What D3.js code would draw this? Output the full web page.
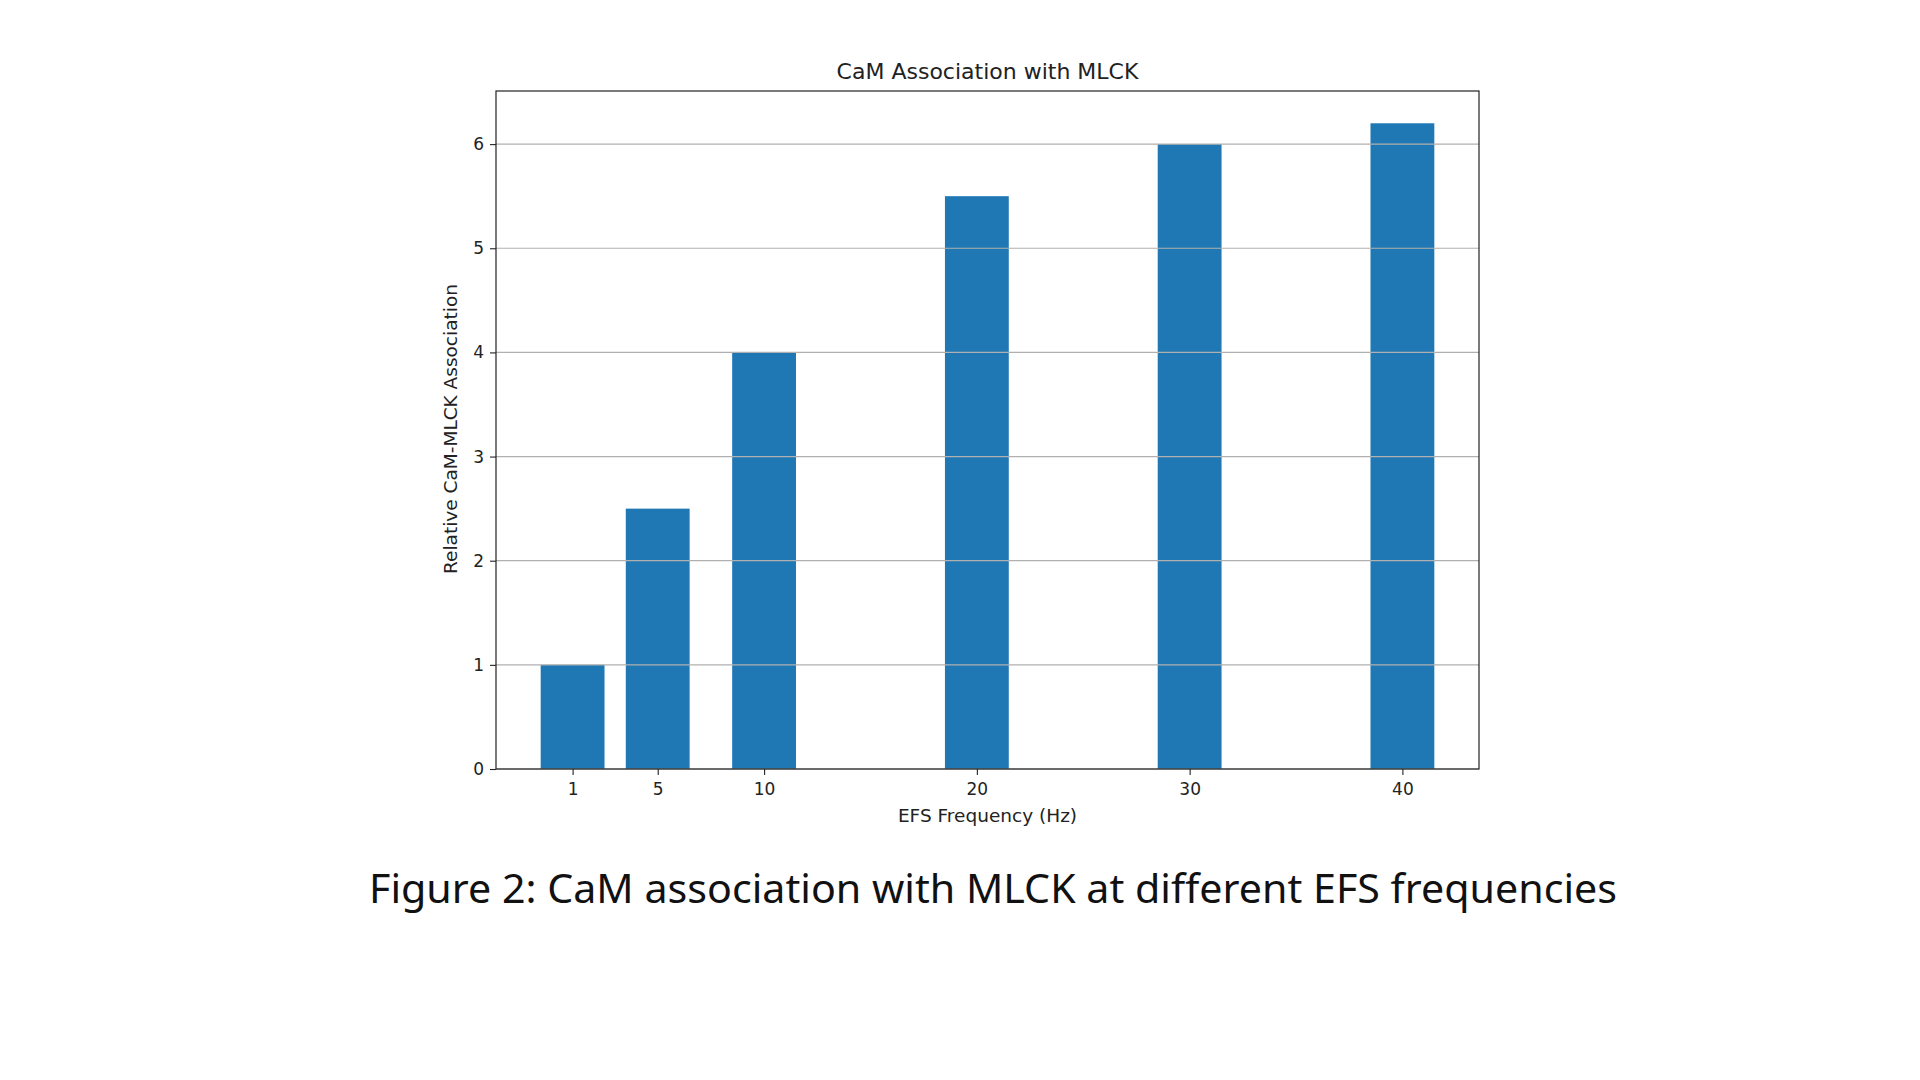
<!DOCTYPE html>
<html>
<head>
<meta charset="utf-8">
<script src="https://cdn.jsdelivr.net/npm/d3@7"></script>
<style>
  body { margin: 0; background: #fff; }
  svg { display: block; }
</style>
</head>
<body>
<div id="chart"></div>
<script>
// frequencies (Hz) and relative association
const freqs = [1, 5, 10, 20, 30, 40];
const assoc = [1.0, 2.5, 4.0, 5.5, 6.0, 6.2];
const yTicks = [0, 1, 2, 3, 4, 5, 6];
const barWidth = 3;

const W = 1920, H = 1080;
const box = { left: 496, right: 1479, top: 91, bottom: 769 };

const svg = d3.select("#chart").append("svg").attr("width", W).attr("height", H);

// matplotlib-style 5% margins around the bar extents
const xMin = d3.min(freqs) - barWidth / 2, xMax = d3.max(freqs) + barWidth / 2;
const xPad = (xMax - xMin) * 0.05;
const x = d3.scaleLinear().domain([xMin - xPad, xMax + xPad]).range([box.left, box.right]);
const y = d3.scaleLinear().domain([0, d3.max(assoc) * 1.05]).range([box.bottom, box.top]);

const font = "DejaVu Sans, sans-serif";

// bars
svg.append("g").selectAll("rect")
  .data(freqs)
  .join("rect")
  .attr("x", (d) => x(d - barWidth / 2))
  .attr("width", (d) => x(d + barWidth / 2) - x(d - barWidth / 2))
  .attr("y", (d, i) => y(assoc[i]))
  .attr("height", (d, i) => y(0) - y(assoc[i]))
  .attr("fill", "#1f77b4");

// horizontal grid (drawn over the bars, as in the figure)
svg.append("g").selectAll("line")
  .data(yTicks)
  .join("line")
  .attr("x1", box.left).attr("x2", box.right)
  .attr("y1", (d) => y(d)).attr("y2", (d) => y(d))
  .attr("stroke", "#b0b0b0").attr("stroke-width", 1.2);

// axes
const gx = svg.append("g").attr("transform", `translate(0,${box.bottom})`)
  .call(d3.axisBottom(x).tickValues(freqs).tickSize(6).tickPadding(8).tickFormat(d3.format("d")));
const gy = svg.append("g").attr("transform", `translate(${box.left},0)`)
  .call(d3.axisLeft(y).tickValues(yTicks).tickSize(6).tickPadding(6).tickFormat(d3.format("d")));
[gx, gy].forEach((g) => {
  g.select(".domain").remove();
  g.selectAll(".tick line").attr("stroke", "#222").attr("stroke-width", 1.1);
  g.selectAll(".tick text").attr("font-family", font).attr("font-size", 17).attr("fill", "#222");
});

// frame
svg.append("rect")
  .attr("x", box.left).attr("y", box.top)
  .attr("width", box.right - box.left).attr("height", box.bottom - box.top)
  .attr("fill", "none").attr("stroke", "#222").attr("stroke-width", 1.2);

// title and labels
const cx = (box.left + box.right) / 2;
svg.append("text").attr("x", cx).attr("y", 79)
  .attr("text-anchor", "middle").attr("font-family", font).attr("font-size", 22).attr("fill", "#222")
  .text("CaM Association with MLCK");
svg.append("text").attr("x", cx).attr("y", 822)
  .attr("text-anchor", "middle").attr("font-family", font).attr("font-size", 18.5).attr("fill", "#222")
  .text("EFS Frequency (Hz)");
svg.append("text")
  .attr("transform", `translate(457,${(box.top + box.bottom) / 2 - 1}) rotate(-90)`)
  .attr("text-anchor", "middle").attr("font-family", font).attr("font-size", 18.5).attr("fill", "#222")
  .text("Relative CaM-MLCK Association");

// caption
svg.append("text").attr("x", 993).attr("y", 903)
  .attr("text-anchor", "middle").attr("font-family", "Noto Sans, sans-serif").attr("font-size", 40).attr("fill", "#111")
  .attr("textLength", 1248).attr("lengthAdjust", "spacingAndGlyphs")
  .text("Figure 2: CaM association with MLCK at different EFS frequencies");
</script>
</body>
</html>
